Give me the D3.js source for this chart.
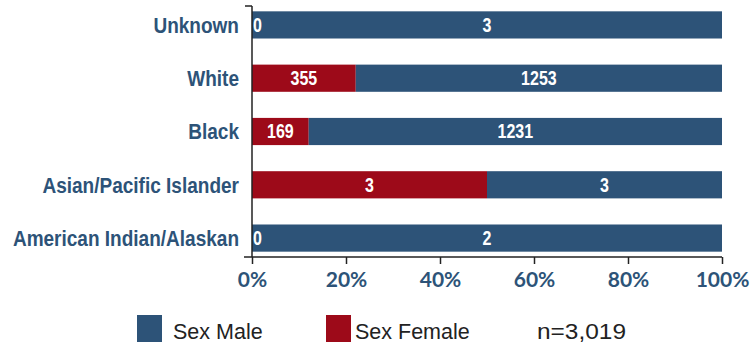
<!DOCTYPE html>
<html>
<head>
<meta charset="utf-8">
<script src="https://cdn.jsdelivr.net/npm/d3@7"></script>
<style>
  body { margin: 0; background: #fff; }
  svg { display: block; }
</style>
</head>
<body>
<div id="chart"></div>
<script>
// data
var categories = ['Unknown', 'White', 'Black', 'Asian/Pacific Islander', 'American Indian/Alaskan'];
var female = [0, 355, 169, 3, 0];
var male = [3, 1253, 1231, 3, 2];
var tickValues = [0, 0.2, 0.4, 0.6, 0.8, 1];
var seriesNames = ['Sex Male', 'Sex Female'];
var totalLabel = 'n=3,019';

var W = 751, H = 343;
var blue = '#2d5378', red = '#9d0a19', labelColor = '#2d5378';
var sans = '"Liberation Sans", Arial, sans-serif';

var svg = d3.select('#chart').append('svg')
    .attr('width', W).attr('height', H);

var rows = categories.map(function(c, i) {
    return { cat: c, female: female[i], male: male[i] };
});

var stack = d3.stack().keys(['female', 'male']).offset(d3.stackOffsetExpand);
var layers = stack(rows);

var x = d3.scaleLinear().domain([0, 1]).range([252, 722]);
var y = d3.scaleBand().domain(categories).range([6, 257])
    .paddingInner(0.49).paddingOuter(0.1);
var color = { female: red, male: blue };

// condensed look: squeeze text horizontally around its anchor
function squeeze(sel, k) {
    sel.attr('transform', function() {
        var tx = +this.getAttribute('x'), ty = +this.getAttribute('y');
        return 'translate(' + tx + ',' + ty + ') scale(' + k + ',1) translate(' + (-tx) + ',' + (-ty) + ')';
    });
}

// bars
var g = svg.append('g');
layers.forEach(function(layer) {
    g.selectAll('rect.' + layer.key).data(layer).enter().append('rect')
        .attr('class', layer.key)
        .attr('x', function(d) { return x(d[0]); })
        .attr('y', function(d) { return y(d.data.cat); })
        .attr('width', function(d) { return x(d[1]) - x(d[0]); })
        .attr('height', y.bandwidth())
        .attr('fill', color[layer.key]);
});

// value labels (after all bars so none gets covered)
var vg = svg.append('g');
layers.forEach(function(layer) {
    vg.selectAll('text.' + layer.key).data(layer).enter().append('text')
        .attr('class', layer.key)
        .attr('x', function(d) {
            var w = x(d[1]) - x(d[0]);
            return w < 12 ? x(d[0]) + 1 : (x(d[0]) + x(d[1])) / 2;
        })
        .attr('y', function(d) { return y(d.data.cat) + y.bandwidth() / 2 + 7; })
        .attr('text-anchor', function(d) { return (x(d[1]) - x(d[0])) < 12 ? 'start' : 'middle'; })
        .attr('fill', '#fff')
        .style('font-family', sans)
        .style('font-weight', 'bold')
        .style('font-size', '20px')
        .text(function(d) { return d.data[layer.key]; })
        .call(squeeze, 0.8);
});

// category labels
svg.append('g').selectAll('text').data(categories).enter().append('text')
    .attr('x', 239)
    .attr('y', function(d) { return y(d) + y.bandwidth() / 2 + 8; })
    .attr('text-anchor', 'end')
    .attr('fill', labelColor)
    .style('font-family', sans)
    .style('font-weight', 'bold')
    .style('font-size', '22px')
    .text(function(d) { return d; })
    .call(squeeze, 0.865);

// x axis
var xAxis = svg.append('g')
    .attr('transform', 'translate(0,257)')
    .call(d3.axisBottom(x).tickValues(tickValues).tickSize(7).tickFormat(d3.format('.0%')));
xAxis.select('.domain').remove();
xAxis.selectAll('.tick line').attr('stroke', '#222').attr('stroke-width', 1.5);
xAxis.selectAll('.tick text')
    .attr('y', 22)
    .attr('dy', '0.36em')
    .attr('fill', labelColor)
    .style('font-family', 'Lato, "Liberation Sans", sans-serif')
    .style('font-weight', 'bold')
    .style('font-size', '21px');

// axis lines
svg.append('line').attr('x1', 244).attr('x2', 722).attr('y1', 257).attr('y2', 257)
    .attr('stroke', '#222').attr('stroke-width', 1.5);
svg.append('line').attr('x1', 252).attr('x2', 252).attr('y1', 6).attr('y2', 257)
    .attr('stroke', '#222').attr('stroke-width', 1.5);
svg.append('line').attr('x1', 245).attr('x2', 252).attr('y1', 6).attr('y2', 6)
    .attr('stroke', '#222').attr('stroke-width', 1.5);

// legend
var legend = [
    { name: seriesNames[0], color: blue, sx: 137, tx: 173 },
    { name: seriesNames[1], color: red, sx: 326, tx: 355 }
];
var lg = svg.append('g');
lg.selectAll('rect').data(legend).enter().append('rect')
    .attr('x', function(d) { return d.sx; })
    .attr('y', 315)
    .attr('width', 25).attr('height', 27)
    .attr('fill', function(d) { return d.color; });
lg.selectAll('text').data(legend).enter().append('text')
    .attr('x', function(d) { return d.tx; })
    .attr('y', 339)
    .attr('fill', '#222')
    .style('font-family', sans)
    .style('font-size', '21.5px')
    .text(function(d) { return d.name; });
lg.append('text')
    .attr('x', 537).attr('y', 339)
    .attr('fill', '#222')
    .style('font-family', sans)
    .style('font-size', '22px')
    .attr('textLength', 89)
    .attr('lengthAdjust', 'spacingAndGlyphs')
    .text(totalLabel);
</script>
</body>
</html>
